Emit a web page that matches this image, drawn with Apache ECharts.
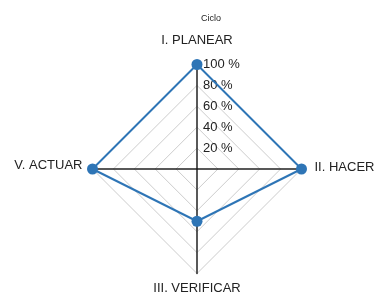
<!DOCTYPE html>
<html lang="es">
  <head>
    <meta charset="UTF-8" />
    <title>Ciclo</title>
    <script src="https://cdn.jsdelivr.net/npm/echarts@6/dist/echarts.min.js"></script>
  </head>
  <body style="margin: 0; background: #fff">
    <div id="main" style="width: 381px; height: 297px"></div>
    <script type="text/javascript">
      // data (radar goes counter-clockwise from the top)
      const categories = ["I. PLANEAR", "V. ACTUAR", "III. VERIFICAR", "II. HACER"];
      const values = [100, 100, 50, 100];
      const tickLabels = [20, 40, 60, 80, 100];

      const font = "Liberation Sans, Arial, sans-serif";
      const center = [197, 169];
      const radius = 104.5;
      // which rich style each indicator name uses (fine-tunes name placement)
      const nameStyle = ["t", "l", "b", "r"];

      let myChart = echarts.init(document.getElementById("main"));
      let options = {
        animation: false,
        title: {
          text: "Ciclo",
          left: 196,
          top: 9,
          textStyle: { fontSize: 9, fontWeight: "normal", color: "#222", fontFamily: font },
        },
        radar: {
          center: center,
          radius: radius,
          startAngle: 90,
          shape: "polygon",
          splitNumber: tickLabels.length,
          indicator: categories.map((c) => ({ name: c, max: 100, min: 0 })),
          nameGap: 7,
          axisName: {
            color: "#222",
            fontSize: 13,
            fontFamily: font,
            formatter: (name) => "{" + nameStyle[categories.indexOf(name)] + "|" + name + "}",
            rich: {
              t: { fontSize: 13, fontFamily: font, color: "#222", padding: [0, 0, 11, 0] },
              b: { fontSize: 13, fontFamily: font, color: "#222", padding: [1, 0, 0, 0] },
              l: { fontSize: 13, fontFamily: font, color: "#222", padding: [0, 3, 8, 0] },
              r: { fontSize: 13, fontFamily: font, color: "#222", padding: [0, 0, 4, 6] },
            },
          },
          axisLine: { lineStyle: { color: "#222", width: 1.5 } },
          splitLine: { lineStyle: { color: "#ccc", width: 1 } },
          splitArea: { show: false },
        },
        polar: { center: center, radius: radius },
        angleAxis: { startAngle: 90, show: false, min: 0, max: 360 },
        radiusAxis: {
          min: 0,
          max: tickLabels[tickLabels.length - 1],
          interval: tickLabels[1] - tickLabels[0],
          axisLine: { show: false },
          axisTick: { show: false },
          splitLine: { show: false },
          axisLabel: {
            color: "#222",
            fontSize: 13,
            fontFamily: font,
            align: "left",
            verticalAlign: "middle",
            padding: [0, 0, 8, 0],
            margin: -6,
            formatter: (v) => (v === 0 ? "" : v + " %"),
          },
        },
        series: [
          {
            type: "radar",
            symbol: "circle",
            symbolSize: 11,
            lineStyle: { color: "#2e75b6", width: 2 },
            itemStyle: { color: "#2e75b6" },
            data: [{ value: values, name: "Ciclo" }],
          },
        ],
      };
      myChart.setOption(options);
    </script>
  </body>
</html>
